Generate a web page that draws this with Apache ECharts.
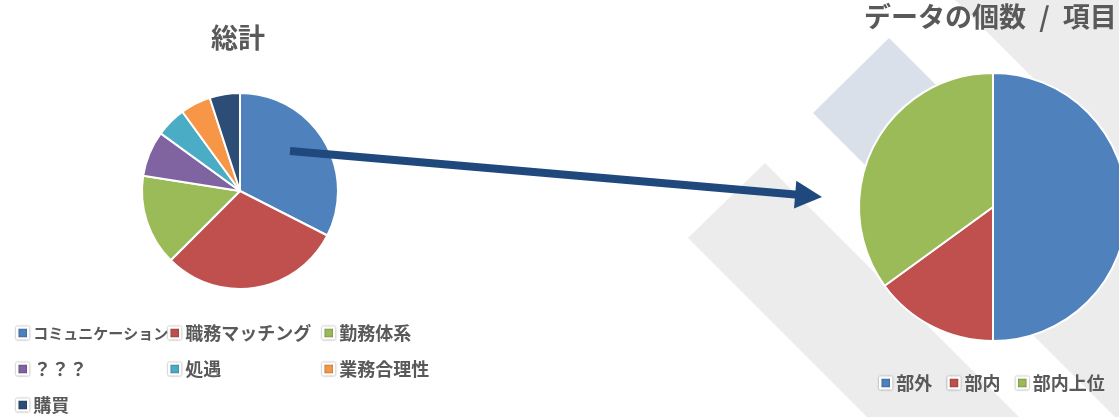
<!DOCTYPE html>
<html>
<head>
<meta charset="utf-8">
<script src="https://cdn.jsdelivr.net/npm/echarts@6/dist/echarts.min.js"></script>
<style>
html,body{margin:0;padding:0;background:#fff;}
#c{width:1119px;height:417px;}
</style>
</head>
<body>
<div id="c"></div>
<script>
// ---- data ----
const leftTitle = '総計';
const leftCats = ['コミュニケーション', '職務マッチング', '勤務体系', '？？？', '処遇', '業務合理性', '購買'];
const leftVals = [13, 12, 6, 3, 2, 2, 2];
const rightTitleParts = ['データの個数', '/', '項目'];
const rightCats = ['部外', '部内', '部内上位'];
const rightVals = [10, 3, 7];

// ---- styles ----
const leftColors = ['#4F81BD', '#C0504D', '#9BBB59', '#8064A2', '#4BACC6', '#F79646', '#2C4D75'];
const rightColors = ['#4F81BD', '#C0504D', '#9BBB59'];
const FONT = '"Noto Sans CJK JP", "Noto Sans", sans-serif';
const TXT = '#595959';

const chart = echarts.init(document.getElementById('c'), null, {renderer: 'canvas'});

function legendItem(name) {
  const it = {name: name};
  if (name === 'コミュニケーション') it.textStyle = {fontSize: 15};
  return it;
}
const legendBase = {
  orient: 'vertical',
  icon: 'rect',
  padding: 0,
  itemWidth: 11,
  itemHeight: 11,
  itemGap: 16,
  selectedMode: false,
  itemStyle: {borderColor: '#ffffff', borderWidth: 2.5, shadowColor: 'rgba(0,0,0,0.45)', shadowBlur: 2},
  textStyle: {fontSize: 18, fontWeight: 'bold', color: TXT, fontFamily: FONT, lineHeight: 20}
};
const col1 = [0, 3, 6].map(i => legendItem(leftCats[i]));
const col2 = [1, 4].map(i => legendItem(leftCats[i]));
const col3 = [2, 5].map(i => legendItem(leftCats[i]));

const gray = '#ececec';
const blueGray = '#dae0ea';
const arrowColor = '#1F497D';
const titleStyle = {fontSize: 27, fontWeight: 'bold', color: TXT, fontFamily: FONT};

const option = {
  animation: false,
  backgroundColor: '#ffffff',
  title: [
    {text: leftTitle, left: 211, top: 24, padding: 0, textStyle: titleStyle},
    {
      text: '{a|' + rightTitleParts[0] + '} {s|' + rightTitleParts[1] + '} {a|' + rightTitleParts[2] + '}',
      left: 864, top: 3, padding: 0,
      textStyle: Object.assign({}, titleStyle, {
        rich: {
          a: titleStyle,
          s: Object.assign({}, titleStyle, {padding: [0, 7, 0, 7]})
        }
      })
    }
  ],
  legend: [
    Object.assign({}, legendBase, {left: 16, top: 323, height: 94, data: col1}),
    Object.assign({}, legendBase, {left: 168, top: 323, height: 94, data: col2}),
    Object.assign({}, legendBase, {left: 322, top: 323, height: 94, data: col3}),
    Object.assign({}, legendBase, {orient: 'horizontal', left: 879, top: 373, itemGap: 15, data: rightCats})
  ],
  graphic: [
    {type: 'polygon', z: -10, silent: true, shape: {points: [[688, 238], [765, 163], [1102, 500], [950, 500]]}, style: {fill: gray}},
    {type: 'polygon', z: -10, silent: true, shape: {points: [[955, 0], [1300, 0], [1300, 345]]}, style: {fill: gray}},
    {type: 'polygon', z: -10, silent: true, shape: {points: [[974, 276], [1200, 50], [1300, 50], [1300, 500], [1198, 500]]}, style: {fill: gray}},
    {type: 'polygon', z: -9, silent: true, shape: {points: [[889, 38], [813, 113], [925, 225], [1000, 149]]}, style: {fill: blueGray}},
    {type: 'line', z: 100, silent: true, shape: {x1: 290, y1: 151, x2: 798, y2: 194.8}, style: {stroke: arrowColor, lineWidth: 8}},
    {type: 'polygon', z: 100, silent: true, shape: {points: [[822, 197], [794, 208.6], [796.3, 180.8]]}, style: {fill: arrowColor}}
  ],
  series: [
    {
      type: 'pie',
      center: [240, 191],
      radius: 98,
      startAngle: 90,
      clockwise: true,
      label: {show: false},
      labelLine: {show: false},
      emphasis: {disabled: true},
      itemStyle: {borderColor: '#ffffff', borderWidth: 2},
      data: leftCats.map((n, i) => ({name: n, value: leftVals[i], itemStyle: {color: leftColors[i]}}))
    },
    {
      type: 'pie',
      center: [993, 207],
      radius: 134,
      startAngle: 90,
      clockwise: true,
      label: {show: false},
      labelLine: {show: false},
      emphasis: {disabled: true},
      itemStyle: {borderColor: '#ffffff', borderWidth: 2},
      data: rightCats.map((n, i) => ({name: n, value: rightVals[i], itemStyle: {color: rightColors[i]}}))
    }
  ]
};
chart.setOption(option);
</script>
</body>
</html>
